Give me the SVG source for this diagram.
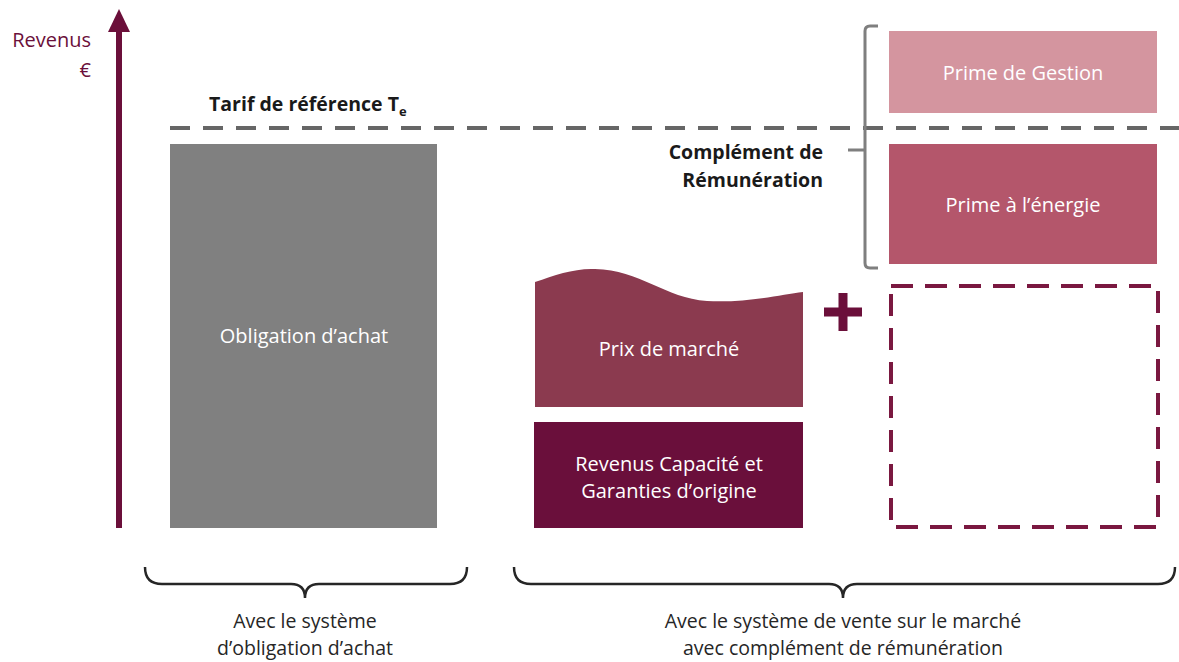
<svg xmlns="http://www.w3.org/2000/svg" width="1179" height="662" viewBox="0 0 1179 662">
<defs>
<style>
text{font-family:"Open Sans","Noto Sans",sans-serif;}
.w{fill:#ffffff;font-size:20px;text-anchor:middle;}
.b{fill:#1a1a1a;font-size:19.5px;font-weight:bold;}
.k{fill:#262626;font-size:19.5px;text-anchor:middle;}
.brace{fill:none;stroke:#262626;stroke-width:2.5;}
</style>
</defs>
<rect width="1179" height="662" fill="#ffffff"/>
<g id="axis">
<rect x="116" y="28" width="6" height="500" fill="#6b0f3a"/>
<polygon points="119,9 108,32 130,32" fill="#6b0f3a"/>
<text x="91" y="47" font-size="20" fill="#6b0f3a" text-anchor="end">Revenus</text>
<text x="91" y="77" font-size="20" fill="#6b0f3a" text-anchor="end">€</text>
</g>
<g id="connectors">
<line x1="170" y1="128" x2="1179" y2="128" stroke="#666666" stroke-width="4" stroke-dasharray="20,13"/>
<path d="M878,26 H870 Q865,26 865,31 V263 Q865,268 870,268 H878 M864,150 H848" fill="none" stroke="#7f7f7f" stroke-width="3"/>
<path class="brace" d="M145,567 Q145,584 162,584 H291 Q305,584 305,598 Q305,584 319,584 H450 Q467,584 467,567"/>
<path class="brace" d="M514,567 Q514,584 531,584 H829 Q843,584 843,598 Q843,584 857,584 H1158 Q1175,584 1175,567"/>
</g>
<g id="tarif">
<text class="b" x="209" y="111">Tarif de référence T<tspan font-size="13" dy="5">e</tspan></text>
</g>
<g id="obligation">
<rect x="170" y="144" width="267" height="384" fill="#808080"/>
<text class="w" x="304" y="343">Obligation d’achat</text>
</g>
<g id="complement">
<text class="b" x="823" y="159" text-anchor="end">Complément de</text>
<text class="b" x="823" y="187" text-anchor="end">Rémunération</text>
</g>
<g id="prime-gestion">
<rect x="889" y="31" width="268" height="82" fill="#d4959f"/>
<text class="w" x="1023" y="80">Prime de Gestion</text>
</g>
<g id="prime-energie">
<rect x="889" y="144" width="268" height="120" fill="#b4566b"/>
<text class="w" x="1023" y="212">Prime à l’énergie</text>
</g>
<g id="prix-marche">
<path d="M535,282 C555,275 575,268 595,269 C640,270 665,298 707,301 C745,303 780,295 803,292 V407 H535 Z" fill="#8b3a4f"/>
<text class="w" x="669" y="356">Prix de marché</text>
</g>
<g id="capacite">
<rect x="534" y="422" width="269" height="106" fill="#6a0f3b"/>
<text class="w" x="669" y="471">Revenus Capacité et</text>
<text class="w" x="669" y="498">Garanties d’origine</text>
</g>
<g id="plus">
<path d="M843,293 V331 M824,312 H862" stroke="#6b0f3a" stroke-width="9" fill="none"/>
</g>
<g id="dashed-box">
<rect x="891" y="286" width="267" height="241" fill="none" stroke="#7a1840" stroke-width="4" stroke-dasharray="22,12"/>
</g>
<g id="labels">
<text class="k" x="305" y="628">Avec le système</text>
<text class="k" x="305" y="655">d’obligation d’achat</text>
<text class="k" x="843" y="628">Avec le système de vente sur le marché</text>
<text class="k" x="843" y="655">avec complément de rémunération</text>
</g>
</svg>
